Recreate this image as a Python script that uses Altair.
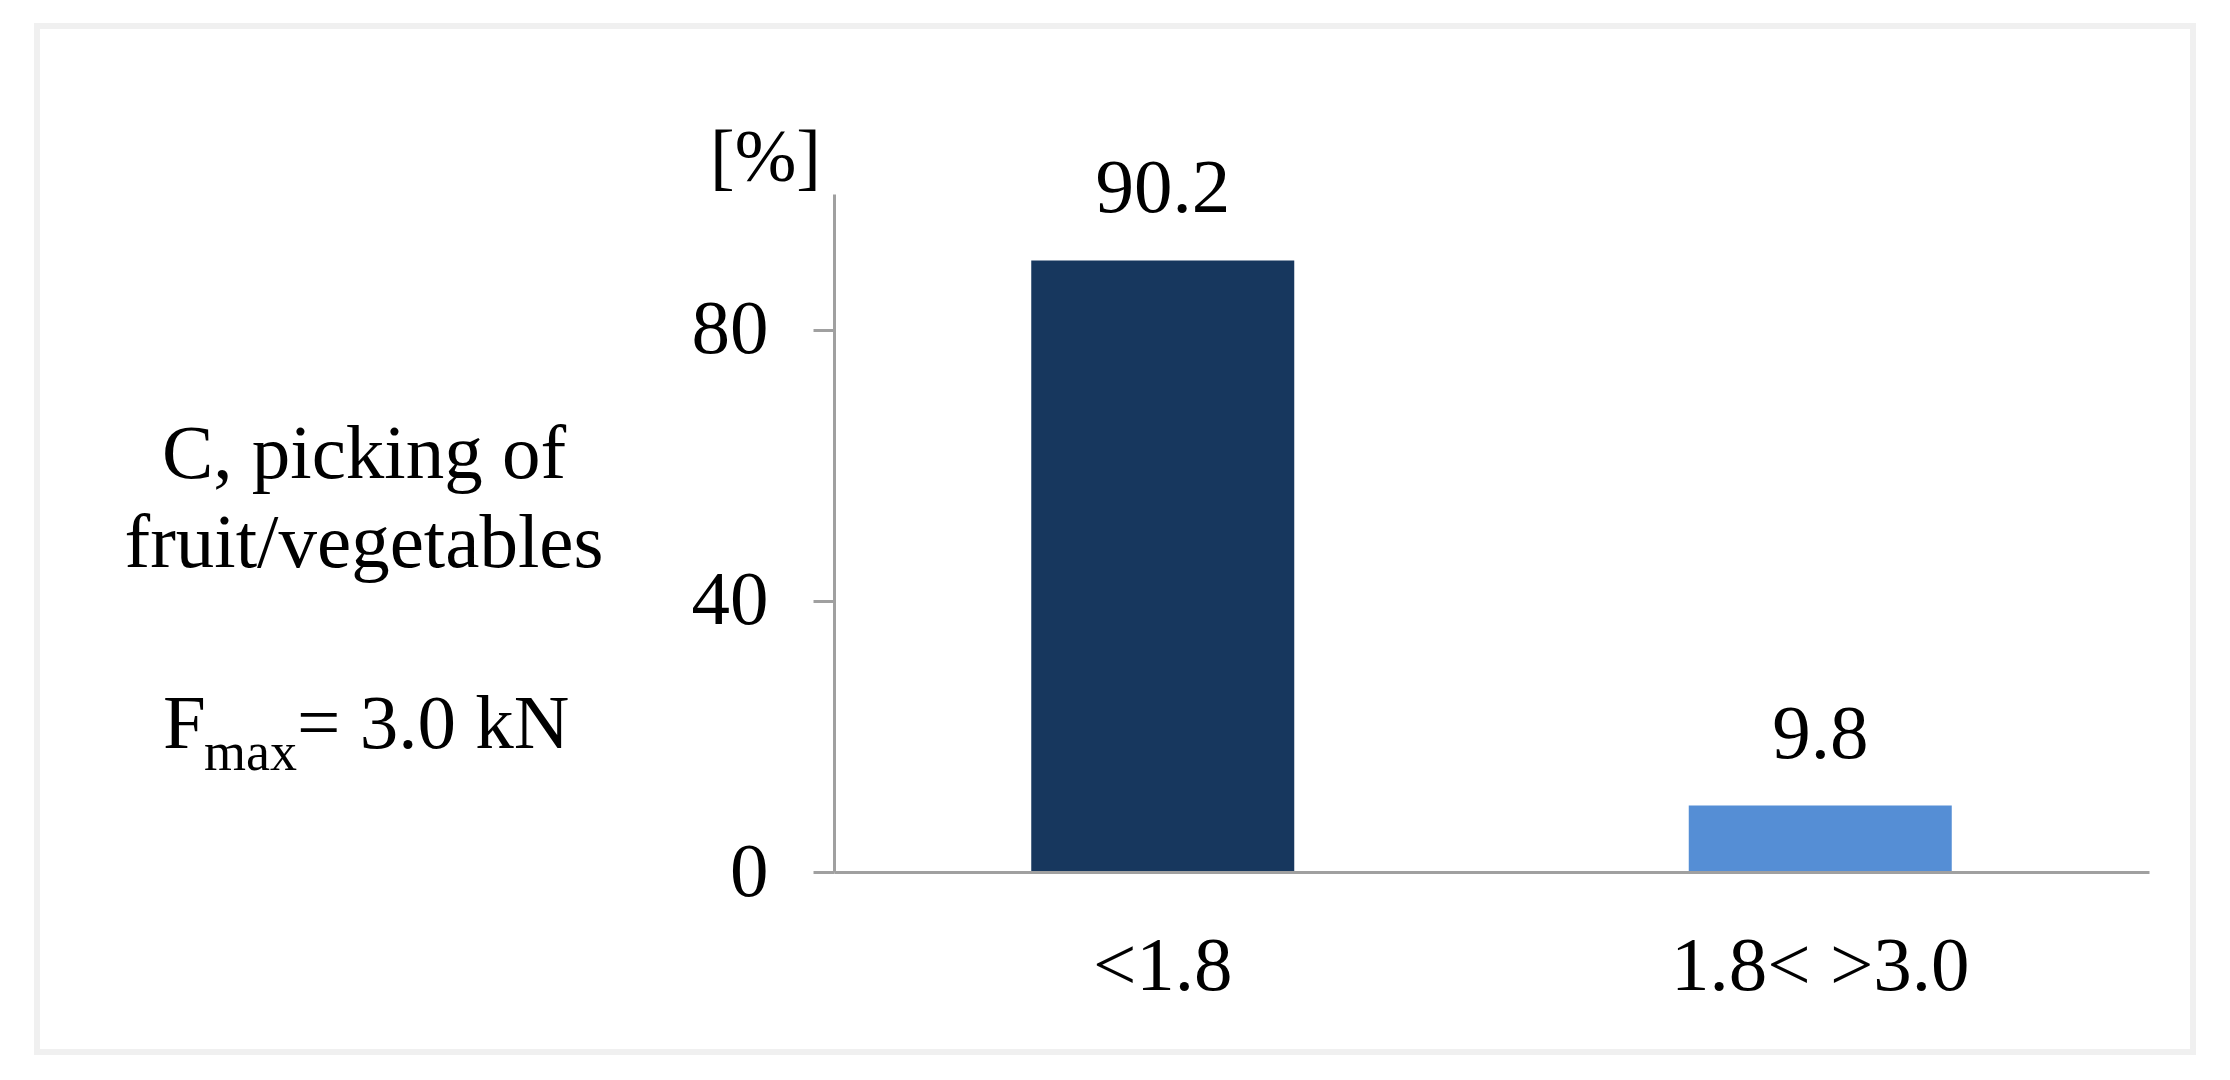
import altair as alt
import pandas as pd

# ---- data ----
categories = ["<1.8", "1.8< >3.0"]
values = [90.2, 9.8]
bar_colors = ["#17375E", "#558ED5"]
y_ticks = [0, 40, 80]
y_title = "[%]"
side_lines = ["C, picking of", "fruit/vegetables"]
force_parts = ["F", "max", "= 3.0 kN"]

FONT = "Liberation Serif"
AXIS_GRAY = "#a0a0a0"

df = pd.DataFrame({"cat": categories, "val": values})
one = pd.DataFrame({"k": [0]})

xenc = alt.X(
    "cat:N",
    sort=categories,
    scale=alt.Scale(paddingInner=0.6, paddingOuter=0.3),
    axis=alt.Axis(
        title=None, labelAngle=0, ticks=False, labelPadding=56, labelLimit=1000,
        labelFontSize=77, labelFont=FONT, labelColor="black",
        domainColor=AXIS_GRAY, domainWidth=3, zindex=1,
    ),
)
yenc = alt.Y(
    "val:Q",
    scale=alt.Scale(domain=[0, 100], nice=False),
    axis=alt.Axis(
        values=y_ticks, grid=False, title=y_title, titleAngle=0,
        titleX=-69, titleY=-14, titleAlign="center", titleBaseline="alphabetic",
        titleFontSize=74, titleFont=FONT, titleFontWeight="normal", titleColor="black",
        tickSize=21, tickColor=AXIS_GRAY, tickWidth=3,
        domainColor=AXIS_GRAY, domainWidth=3,
        labelPadding=45, labelFontSize=77, labelFont=FONT, labelColor="black",
        labelFlush=False, zindex=1,
    ),
)

frame = alt.Chart(one).mark_rect(filled=False, stroke="#f0f0f0", strokeWidth=6).encode(
    x=alt.value(-797), x2=alt.value(1359), y=alt.value(-168), y2=alt.value(858)
)

bars = alt.Chart(df).mark_bar().encode(
    x=xenc,
    y=yenc,
    color=alt.Color("cat:N", scale=alt.Scale(domain=categories, range=bar_colors), legend=None),
)

labels = alt.Chart(df).mark_text(
    dy=-48, baseline="alphabetic", fontSize=77, font=FONT, color="black"
).encode(
    x=alt.X("cat:N", sort=categories),
    y=alt.Y("val:Q"),
    text=alt.Text("val:Q", format=".1f"),
)

def txt(s, x, y, size=77, align="center"):
    return alt.Chart(one).mark_text(
        text=s, fontSize=size, font=FONT, color="black", align=align, baseline="alphabetic"
    ).encode(x=alt.value(x), y=alt.value(y))

side1 = txt(side_lines[0], -470, 284)
side2 = txt(side_lines[1], -470, 373)
f1 = txt(force_parts[0], -671, 554, align="left")
f2 = txt(force_parts[1], -630, 576, size=54, align="left")
f3 = txt(force_parts[2], -537, 554, align="left")

chart = alt.layer(frame, bars, labels, side1, side2, f1, f2, f3).properties(
    width=1315,
    height=678,
    autosize=alt.AutoSizeParams(type="none"),
    padding={"left": 826, "top": 186, "right": 60, "bottom": 190},
).configure(background="white", view=alt.ViewConfig(stroke=None))

chart.save("out.html", embed_options={"renderer": "svg", "actions": False})
